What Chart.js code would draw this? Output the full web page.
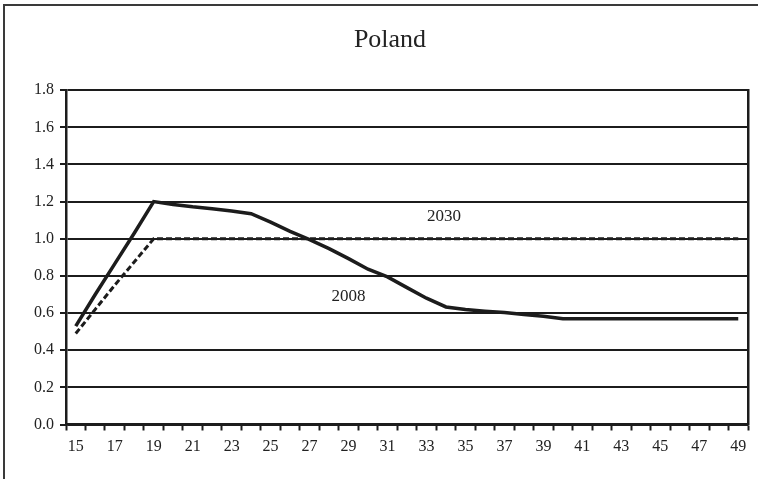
<!DOCTYPE html>
<html>
<head>
<meta charset="utf-8">
<script src="https://cdn.jsdelivr.net/npm/chart.js@4/dist/chart.umd.min.js"></script>
<style>
  html, body { margin: 0; padding: 0; background: #fff; }
  #wrap { width: 758px; height: 479px; }
</style>
</head>
<body>
<div id="wrap"><canvas id="poland" width="758" height="479"></canvas></div>
<script>
// age groups on the x axis
const ages = [15, 16, 17, 18, 19, 20, 21, 22, 23, 24, 25, 26, 27, 28, 29, 30, 31, 32,
  33, 34, 35, 36, 37, 38, 39, 40, 41, 42, 43, 44, 45, 46, 47, 48, 49];

// solid line (2008)
const rate2008 = [0.53, 0.70, 0.865, 1.03, 1.20, 1.185, 1.172, 1.162, 1.15, 1.135,
  1.09, 1.04, 0.995, 0.947, 0.893, 0.836, 0.795, 0.737, 0.68, 0.633,
  0.619, 0.61, 0.603, 0.592, 0.583, 0.57, 0.57, 0.57, 0.57, 0.57,
  0.57, 0.57, 0.57, 0.57, 0.57];

// dashed line (2030)
const rate2030 = [0.49, 0.62, 0.75, 0.875, 1.0, 1.0, 1.0, 1.0, 1.0, 1.0,
  1.0, 1.0, 1.0, 1.0, 1.0, 1.0, 1.0, 1.0, 1.0, 1.0,
  1.0, 1.0, 1.0, 1.0, 1.0, 1.0, 1.0, 1.0, 1.0, 1.0,
  1.0, 1.0, 1.0, 1.0, 1.0];

const yTicks = [0.0, 0.2, 0.4, 0.6, 0.8, 1.0, 1.2, 1.4, 1.6, 1.8];
const seriesNames = ["2008", "2030"];

const ink = "#1c1c1c";
const serif = "'Liberation Serif', 'Times New Roman', serif";

// text labels inside the plot, placed in data units (age, value)
const inlineLabels = [
  { text: seriesNames[1], age: 33.9, value: 1.12 },
  { text: seriesNames[0], age: 29.0, value: 0.69 },
];

const inlineLabelPlugin = {
  id: "inlineLabels",
  afterDatasetsDraw(chart) {
    const { ctx, scales } = chart;
    ctx.save();
    ctx.font = "17px " + serif;
    ctx.fillStyle = "#222";
    ctx.textAlign = "center";
    ctx.textBaseline = "middle";
    inlineLabels.forEach((l) => {
      const x = scales.x.getPixelForValue(l.age - ages[0]);
      const y = scales.y.getPixelForValue(l.value);
      ctx.fillText(l.text, x, y);
    });
    ctx.restore();
  },
};

// outer frame of the figure (left and top edges)
const framePlugin = {
  id: "frame",
  beforeDraw(chart) {
    const ctx = chart.ctx;
    ctx.save();
    ctx.strokeStyle = "#3a3a3a";
    ctx.lineWidth = 2;
    ctx.beginPath();
    ctx.moveTo(4, chart.height);
    ctx.lineTo(4, 5);
    ctx.lineTo(chart.width, 5);
    ctx.stroke();
    ctx.restore();
  },
};

const data = {
  labels: ages.map(String),
  datasets: [
    {
      label: seriesNames[0],
      data: rate2008,
      borderColor: ink,
      borderWidth: 3.5,
      pointRadius: 0,
      tension: 0,
      fill: false,
    },
    {
      label: seriesNames[1],
      data: rate2030,
      borderColor: ink,
      borderWidth: 3,
      borderDash: [6, 3],
      pointRadius: 0,
      tension: 0,
      fill: false,
    },
  ],
};

const config = {
  type: "line",
  data: data,
  plugins: [framePlugin, inlineLabelPlugin],
  options: {
    responsive: false,
    animation: false,
    devicePixelRatio: 1,
    layout: { padding: { left: 32, right: 10, top: 0, bottom: 0 } },
    plugins: {
      legend: { display: false },
      tooltip: { enabled: false },
      title: {
        display: true,
        text: "Poland",
        color: "#222",
        font: { family: serif, size: 26, weight: "normal" },
        padding: { top: 25, bottom: 34 },
      },
    },
    scales: {
      x: {
        type: "category",
        offset: true,
        afterFit: (s) => { s.height = 54.5; },
        grid: {
          offset: true,
          drawOnChartArea: false,
          drawTicks: true,
          tickLength: 6,
          tickWidth: 2,
          tickColor: ink,
        },
        border: { display: true, color: ink, width: 2.5 },
        ticks: {
          autoSkip: false,
          maxRotation: 0,
          minRotation: 0,
          padding: 7,
          color: "#222",
          font: { family: serif, size: 16 },
          callback: function (value, index) {
            return index % 2 === 0 ? this.getLabelForValue(value) : "";
          },
        },
      },
      y: {
        min: yTicks[0],
        max: yTicks[yTicks.length - 1],
        afterFit: (s) => { s.width = 34; },
        afterBuildTicks: (s) => { s.ticks = yTicks.map((v) => ({ value: v })); },
        grid: {
          color: ink,
          lineWidth: 2,
          drawTicks: true,
          tickLength: 6,
          tickColor: ink,
        },
        border: { display: true, color: ink, width: 2.5 },
        ticks: {
          padding: 6,
          color: "#222",
          font: { family: serif, size: 16 },
          callback: (value) => Number(value).toFixed(1),
        },
      },
      yRight: {
        position: "right",
        min: yTicks[0],
        max: yTicks[yTicks.length - 1],
        afterFit: (s) => { s.width = 0; },
        grid: { drawOnChartArea: false, drawTicks: false },
        border: { display: true, color: ink, width: 2.5 },
        ticks: { display: false },
      },
    },
  },
};

const ctx = document.getElementById("poland").getContext("2d");
const polandChart = new Chart(ctx, config);
</script>
</body>
</html>
